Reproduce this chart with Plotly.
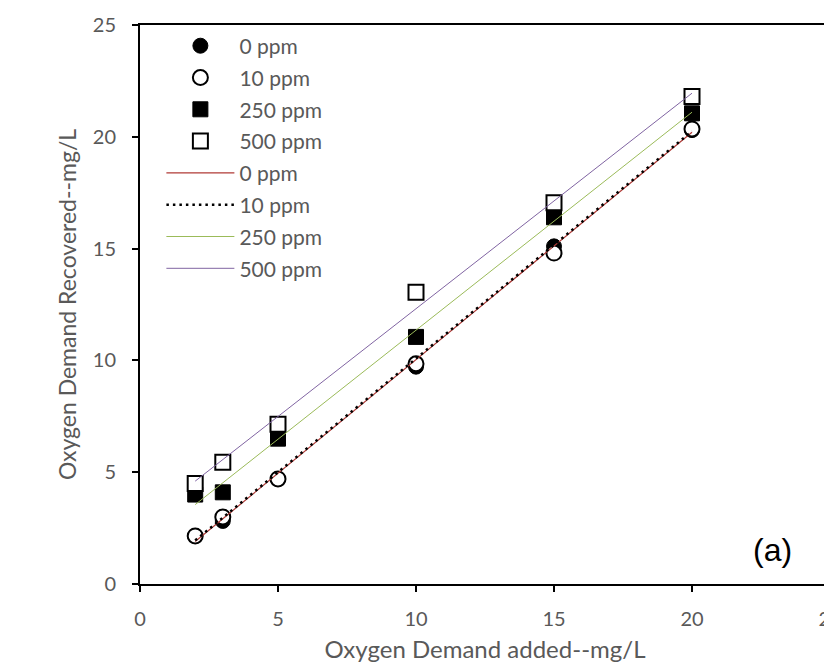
import plotly.graph_objects as go

x_added = [2, 3, 5, 10, 15, 20]
y_0ppm = [2.15, 2.82, 4.7, 9.72, 15.1, 20.3]
y_10ppm = [2.15, 3.0, 4.7, 9.85, 14.8, 20.35]
y_250ppm = [4.0, 4.1, 6.5, 11.05, 16.4, 21.05]
y_500ppm = [4.5, 5.45, 7.15, 13.05, 17.05, 21.8]

fit_x = [2, 20]
fit_0ppm = [1.9, 20.2]
fit_10ppm = [1.95, 20.25]
fit_250ppm = [3.55, 21.1]
fit_500ppm = [4.6, 21.95]

x_ticks = [0, 5, 10, 15, 20, 25]
y_ticks = [0, 5, 10, 15, 20, 25]

FONT = "Lato"
GRAY = "#595959"

fig = go.Figure()

marker_series = [
    ("0 ppm", y_0ppm, "circle", "black"),
    ("10 ppm", y_10ppm, "circle", "white"),
    ("250 ppm", y_250ppm, "square", "black"),
    ("500 ppm", y_500ppm, "square", "white"),
]
for i, (name, ys, sym, fill) in enumerate(marker_series):
    if fill == "white":
        marker = dict(symbol=sym, size=15, color="white",
                      line=dict(color="black", width=2))
    else:
        marker = dict(symbol=sym, size=15, color="black",
                      line=dict(color="black", width=1))
    fig.add_trace(go.Scatter(x=x_added, y=ys, mode="markers", name=name,
                             marker=marker, legendgroup=f"g{i}"))

line_series = [
    ("0 ppm", fit_0ppm, "#B03A36", 1.2, "solid"),
    ("10 ppm", fit_10ppm, "black", 2.5, "2.5px,4px"),
    ("250 ppm", fit_250ppm, "#9BBB59", 1, "solid"),
    ("500 ppm", fit_500ppm, "#8064A2", 1, "solid"),
]
for j, (name, ys, col, w, dash) in enumerate(line_series):
    fig.add_trace(go.Scatter(x=fit_x, y=ys, mode="lines", name=name,
                             line=dict(color=col, width=w, dash=dash),
                             legendgroup=f"h{j}"))

axis_common = dict(
    showline=True, linecolor="black", linewidth=2, mirror=True,
    ticks="outside", ticklen=6, tickwidth=1.5, tickcolor="black",
    showgrid=False, zeroline=False, automargin=False,
    ticklabeloverflow="allow",
    tickfont=dict(family=FONT, size=20, color=GRAY),
)

fig.update_layout(
    width=832, height=665,
    margin=dict(l=132, r=10, t=17, b=89),
    paper_bgcolor="white", plot_bgcolor="white",
    font=dict(family=FONT, color=GRAY),
    xaxis=dict(range=[0, 25], tickvals=x_ticks, ticklabelstandoff=10,
               title=dict(text="Oxygen Demand added--mg/L",
                          font=dict(family=FONT, size=24, color=GRAY), standoff=12),
               **axis_common),
    yaxis=dict(range=[0, 25], tickvals=y_ticks, ticklabelstandoff=12,
               title=dict(text="Oxygen Demand Recovered--mg/L",
                          font=dict(family=FONT, size=23, color=GRAY), standoff=10),
               **axis_common),
    legend=dict(x=0.031, y=0.999, xanchor="left", yanchor="top",
                bgcolor="rgba(0,0,0,0)", font=dict(family=FONT, size=21, color=GRAY),
                traceorder="grouped", tracegroupgap=1.5, itemwidth=68),
    showlegend=True,
    annotations=[dict(x=0.917, y=0.061, xref="paper", yref="paper", text="(a)",
                      xanchor="center", yanchor="middle",
                      showarrow=False, font=dict(family="Liberation Sans", size=32, color="black"))],
)

fig.write_html("out.html")
